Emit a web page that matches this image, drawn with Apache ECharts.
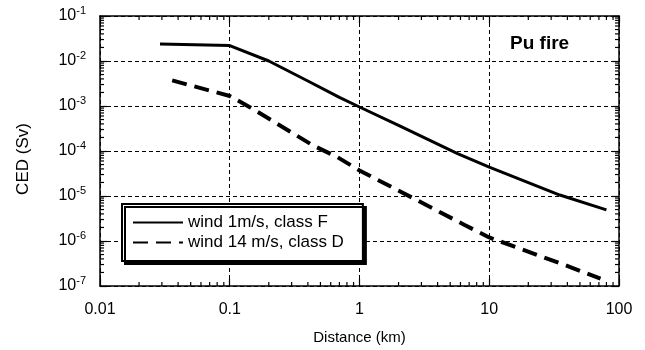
<!DOCTYPE html>
<html>
<head>
<meta charset="utf-8">
<script src="https://cdn.jsdelivr.net/npm/echarts@6/dist/echarts.min.js"></script>
<style>
html,body{margin:0;padding:0;background:#fff;}
#chart{width:645px;height:350px;}
</style>
</head>
<body>
<div id="chart"></div>
<script>
// ---- data ----
const seriesNames = ['wind 1m/s, class F', 'wind 14 m/s, class D'];
const solidX = [0.029, 0.1, 0.2, 0.4, 0.7, 1, 2, 5.7, 10, 35, 80];
const solidY = [0.024, 0.022, 0.0100, 3.6e-3, 1.55e-3, 9.5e-4, 3.7e-4, 8.7e-5, 4.4e-5, 1.05e-5, 4.9e-6];
const dashX = [0.036, 0.1, 0.144, 0.44, 0.67, 1, 2.6, 6.4, 10, 19.7, 42.6, 72];
const dashY = [3.7e-3, 1.67e-3, 9.3e-4, 1.32e-4, 7.4e-5, 3.7e-5, 8.9e-6, 2.3e-6, 1.2e-6, 5.9e-7, 2.6e-7, 1.45e-7];
const xTickLabels = ['0.01', '0.1', '1', '10', '100'];
const yTickExponents = ['-7', '-6', '-5', '-4', '-3', '-2', '-1'];
const xMin = 0.01, xMax = 100, yMin = 1e-7, yMax = 1e-1;

const FONT = '"Liberation Sans", Arial, Helvetica, sans-serif';

// minor tick positions (2..9 x 10^k) for log axes
const minorTicks = [];
for (let e = -2; e < 2; e++) for (let m = 2; m <= 9; m++) minorTicks.push([m * Math.pow(10, e), yMin, 0]);
for (let e = -7; e < -1; e++) for (let m = 2; m <= 9; m++) minorTicks.push([xMin, m * Math.pow(10, e), 1]);

const chart = echarts.init(document.getElementById('chart'), null, {renderer: 'canvas'});

const axisLine = {show: true, lineStyle: {color: '#000', width: 1.5}};
const axisTick = {show: true, inside: true, length: 7, lineStyle: {color: '#000', width: 1.2}};
const expOf = v => Math.round(Math.log10(v));

const option = {
  backgroundColor: '#fff',
  animation: false,
  textStyle: {fontFamily: FONT, color: '#000'},
  title: {
    text: 'Pu fire', left: 510, top: 34, padding: 0,
    textStyle: {fontFamily: FONT, fontSize: 19, fontWeight: 'bold', color: '#000'}
  },
  grid: {left: 100, right: 26, top: 16, bottom: 62, containLabel: false},
  legend: {
    data: seriesNames,
    orient: 'vertical', left: 122, top: 204,
    itemWidth: 50, itemHeight: 17, itemGap: 3, itemTextGap: 6,
    padding: [10, 19, 10, 10],
    borderColor: '#000', borderWidth: 2, backgroundColor: '#fff',
    shadowColor: '#000', shadowBlur: 0, shadowOffsetX: 3, shadowOffsetY: 3,
    itemStyle: {opacity: 0},
    textStyle: {fontFamily: FONT, fontSize: 17, color: '#000'},
    selectedMode: false
  },
  xAxis: [{
    type: 'log', logBase: 10, min: xMin, max: xMax, splitNumber: 4,
    position: 'bottom',
    name: 'Distance (km)', nameLocation: 'middle', nameGap: 44,
    nameTextStyle: {fontFamily: FONT, fontSize: 15, color: '#000'},
    axisLine, axisTick,
    axisLabel: {
      margin: 16, fontFamily: FONT, fontSize: 16, color: '#000',
      formatter: v => xTickLabels[expOf(v) + 2]
    },
    splitLine: {show: true, lineStyle: {color: '#000', width: 1, type: [4, 3]}}
  }, {
    type: 'log', logBase: 10, min: xMin, max: xMax, splitNumber: 4,
    position: 'top', axisLine, axisTick,
    axisLabel: {show: false}, splitLine: {show: false}
  }],
  yAxis: [{
    type: 'log', logBase: 10, min: yMin, max: yMax, splitNumber: 6,
    position: 'left',
    name: 'CED (Sv)', nameLocation: 'middle', nameGap: 68,
    nameTextStyle: {fontFamily: FONT, fontSize: 17, color: '#000', padding: [0, 16, 0, 0]},
    axisLine, axisTick,
    axisLabel: {
      margin: 14, fontFamily: FONT, color: '#000',
      formatter: v => '{b|10}{s|' + yTickExponents[expOf(v) + 7] + '}',
      rich: {
        b: {fontFamily: FONT, fontSize: 16, lineHeight: 16, color: '#000'},
        s: {fontFamily: FONT, fontSize: 11, lineHeight: 11, color: '#000', padding: [0, 0, 10, 0]}
      }
    },
    splitLine: {show: true, lineStyle: {color: '#000', width: 1, type: [4, 3]}}
  }, {
    type: 'log', logBase: 10, min: yMin, max: yMax, splitNumber: 6,
    position: 'right', axisLine, axisTick,
    axisLabel: {show: false}, splitLine: {show: false}
  }],
  series: [{
    name: seriesNames[0], type: 'line', xAxisIndex: 0, yAxisIndex: 0,
    data: solidX.map((x, i) => [x, solidY[i]]),
    symbol: 'none', smooth: false, z: 3,
    lineStyle: {color: '#000', width: 3}, itemStyle: {color: '#000'}
  }, {
    name: seriesNames[1], type: 'line', xAxisIndex: 0, yAxisIndex: 0,
    data: dashX.map((x, i) => [x, dashY[i]]),
    symbol: 'none', smooth: false, z: 3,
    lineStyle: {color: '#000', width: 4, type: [15, 8]}, itemStyle: {color: '#000'}
  }, {
    name: 'minorTicks', type: 'custom', xAxisIndex: 0, yAxisIndex: 0,
    silent: true, clip: false, z: 2,
    dimensions: ['x', 'y', 'kind'],
    encode: {x: 0, y: 1},
    data: minorTicks,
    renderItem: function (params, api) {
      const p = api.coord([api.value(0), api.value(1)]);
      const cs = params.coordSys;
      const L = 4;
      const style = {stroke: '#000', lineWidth: 1.2};
      if (api.value(2) === 0) {
        const b = cs.y + cs.height, t = cs.y;
        return {type: 'group', children: [
          {type: 'line', shape: {x1: p[0], y1: b, x2: p[0], y2: b - L}, style},
          {type: 'line', shape: {x1: p[0], y1: t, x2: p[0], y2: t + L}, style}
        ]};
      } else {
        const l = cs.x, r = cs.x + cs.width;
        return {type: 'group', children: [
          {type: 'line', shape: {x1: l, y1: p[1], x2: l + L, y2: p[1]}, style},
          {type: 'line', shape: {x1: r, y1: p[1], x2: r - L, y2: p[1]}, style}
        ]};
      }
    }
  }]
};
chart.setOption(option);
</script>
</body>
</html>
